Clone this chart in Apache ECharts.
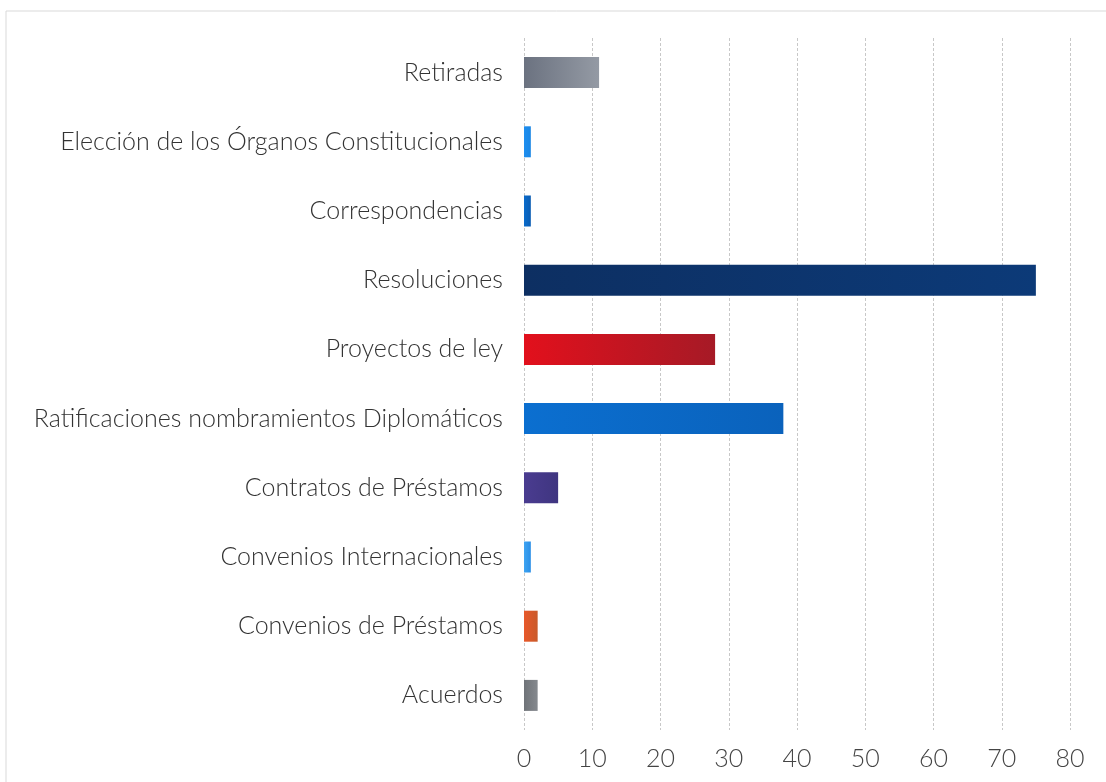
<!DOCTYPE html>
<html>
<head>
<meta charset="utf-8">
<script src="https://cdn.jsdelivr.net/npm/echarts@6/dist/echarts.min.js"></script>
<style>
  html, body { margin: 0; padding: 0; background: #fff; }
  #main { width: 1106px; height: 782px; }
</style>
</head>
<body>
<div id="main"></div>
<script>
// categorias de abajo hacia arriba
var categorias = ['Acuerdos', 'Convenios de Préstamos', 'Convenios Internacionales', 'Contratos de Préstamos',
    'Ratificaciones nombramientos Diplomáticos', 'Proyectos de ley', 'Resoluciones', 'Correspondencias',
    'Elección de los Órganos Constitucionales', 'Retiradas'];
var valores = [2, 2, 1, 5, 38, 28, 75, 1, 1, 11];
var ticksX = [0, 10, 20, 30, 40, 50, 60, 70, 80];

// colores de cada barra [izquierda, derecha]
var colores = [
    ['#6f7378', '#85898e'],
    ['#e8582a', '#c95a2a'],
    ['#3ea4f2', '#2a8ee6'],
    ['#4a3c90', '#3f3580'],
    ['#0b6fd0', '#0a62bc'],
    ['#e2101c', '#a61a26'],
    ['#0d2f62', '#0c3a78'],
    ['#0a6ccc', '#0a5cb2'],
    ['#1e8ff0', '#1a86e4'],
    ['#6b7280', '#949aa4']
];

var myChart = echarts.init(document.getElementById('main'));

var datos = [];
for (var i = 0; i < valores.length; i++) {
    datos.push({
        value: valores[i],
        itemStyle: {
            color: new echarts.graphic.LinearGradient(0, 0, 1, 0, [
                { offset: 0, color: colores[i][0] },
                { offset: 1, color: colores[i][1] }
            ])
        }
    });
}

myChart.setOption({
    animation: false,
    graphic: [{
        type: 'rect',
        shape: { x: 6, y: 11, width: 1200, height: 900 },
        style: { fill: 'none', stroke: '#d9d9d9', lineWidth: 1 },
        silent: true
    }],
    grid: {
        left: 524,
        right: 36,
        top: 38,
        bottom: 52
    },
    xAxis: {
        type: 'value',
        min: 0,
        max: 80,
        interval: 10,
        axisLine: { show: false },
        axisTick: { show: false },
        axisLabel: {
            margin: 16,
            color: '#444',
            fontSize: 25,
            fontWeight: 300,
            fontFamily: 'Lato',
            formatter: function (v) { return ticksX.indexOf(v) >= 0 ? v : ''; }
        },
        splitLine: {
            show: true,
            lineStyle: { color: '#c8c8c8', type: [3, 2], width: 1 }
        }
    },
    yAxis: {
        type: 'category',
        data: categorias,
        axisLine: { show: false },
        axisTick: { show: false },
        axisLabel: {
            margin: 21,
            color: '#333',
            fontSize: 25,
            fontWeight: 300,
            fontFamily: 'Lato'
        }
    },
    series: [{
        type: 'bar',
        data: datos,
        barWidth: 31
    }]
});
</script>
</body>
</html>
